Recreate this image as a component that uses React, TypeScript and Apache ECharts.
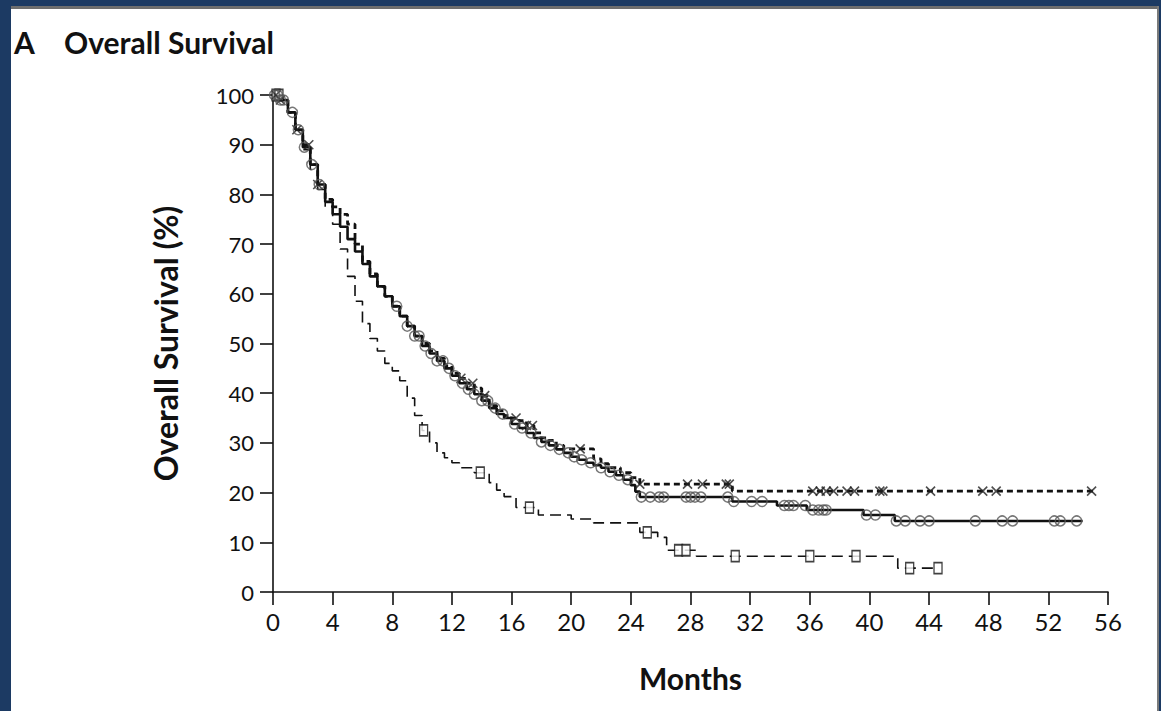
import React, { useEffect, useRef } from "react";
import * as echarts from "echarts";

// Kaplan–Meier curves: [month, survival %]
const armSolidCurve: [number, number][] = [
  [0, 100], [0.5, 99], [1, 96.5], [1.5, 93], [2, 89.5], [2.5, 86], [3, 82], [3.5, 78.5],
  [4, 76], [4.5, 73.5], [5, 71], [5.5, 68.5], [6, 66], [6.5, 63.5], [7, 61.5], [7.5, 59.5],
  [8, 57.5], [8.5, 55.5], [9, 53.5], [9.5, 51.5], [10, 49.5], [10.5, 48], [11, 46.5],
  [11.5, 45], [12, 43.5], [12.5, 42], [13, 40.8], [13.5, 39.8], [14, 38.5], [14.5, 37],
  [15, 35.8], [15.5, 35], [16, 33.8], [16.5, 33], [17, 32], [17.5, 31], [18, 30.2],
  [18.5, 29.5], [19, 28.7], [19.5, 28], [20, 27.2], [20.5, 26.6], [21, 26], [21.5, 25.5],
  [22, 25], [22.5, 24.2], [23, 23.5], [23.5, 22.6], [24, 21.5], [24.3, 20.2], [24.6, 19.1],
  [30.8, 18.2], [33.8, 17.4], [35.8, 16.5], [39.6, 15.5], [41.7, 14.3], [54.3, 14.3],
];
const armCrossCurve: [number, number][] = [
  [0, 100], [0.5, 99], [1, 96.5], [1.5, 93], [2, 90], [2.5, 86], [3, 82], [3.5, 79],
  [4, 77.5], [4.5, 76], [5, 74], [5.5, 70], [6, 66.5], [6.5, 64], [7, 61.5], [7.5, 59.5],
  [8, 57.5], [8.5, 55.5], [9, 53.5], [9.5, 51.5], [10, 50], [10.5, 48.5], [11, 47],
  [11.5, 45.5], [12, 44], [12.5, 43], [13, 42], [13.5, 41], [14, 39.5], [14.5, 37.5],
  [15, 36.5], [15.5, 35.5], [16, 35], [16.5, 34.5], [17, 33.5], [17.5, 32], [18, 31],
  [18.5, 30.5], [19, 29.5], [19.5, 28.8], [21.5, 26.8], [22, 25.8], [22.5, 25], [23.3, 24],
  [24, 23], [24.6, 21.7], [30.8, 20.3], [55, 20.3],
];
const armSquareCurve: [number, number][] = [
  [0, 100], [0.5, 99], [1, 96.5], [1.5, 93], [2, 89], [2.5, 85], [3, 81], [3.5, 77.5],
  [4, 74], [4.5, 69], [5, 63.5], [5.5, 58.5], [6, 54], [6.5, 51], [7, 48.5], [7.5, 46],
  [8, 44.5], [8.5, 42.5], [9, 39], [9.5, 35.5], [10, 32.5], [10.5, 30], [11, 28],
  [11.5, 27], [12, 26], [12.5, 25], [13.5, 24], [14.5, 22], [15, 20.5], [15.5, 19.2],
  [16.3, 17], [17.8, 15.5], [20, 14.7], [21.5, 13.9], [24.6, 12], [25.8, 11], [26.4, 8.4],
  [28.4, 7.2], [41.9, 4.8], [44.6, 4.8],
];

// Censoring times (months)
const armSolidCensor: number[] = [
  0.1, 0.3, 0.5, 0.7, 1.3, 1.7, 2.1, 2.6, 3.1, 8.3, 9.0, 9.5, 9.8, 10.2, 10.6, 11.0, 11.4,
  11.8, 12.2, 12.7, 13.1, 13.5, 14.0, 14.4, 14.9, 15.4, 16.2, 16.7, 17.3, 18.0, 18.6, 19.2,
  19.8, 20.2, 20.7, 21.3, 22.0, 22.6, 23.2, 23.8, 24.7, 25.3, 25.9, 26.2, 27.7, 28.0, 28.3,
  28.7, 30.5, 30.9, 32.1, 32.8, 34.3, 34.6, 34.9, 35.7, 36.2, 36.6, 36.9, 37.1, 39.8, 40.4,
  41.8, 42.4, 43.4, 44.0, 47.1, 48.9, 49.6, 52.4, 52.8, 53.9,
];
const armCrossCensor: number[] = [
  0.2, 0.5, 1.6, 2.4, 3.0, 12.6, 13.4, 14.2, 16.3, 17.0, 17.4, 20.6, 24.6, 27.8, 28.8,
  30.4, 30.6, 36.2, 36.7, 37.1, 37.6, 38.5, 39.0, 40.7, 40.9, 44.1, 47.6, 48.5, 54.9,
];
const armSquareCensor: number[] = [
  0.2, 0.4, 10.1, 13.9, 17.2, 25.1, 27.2, 27.7, 31.0, 36.0, 39.1, 42.7, 44.6,
];

const xTicks = { min: 0, max: 56, interval: 4 };
const yTicks = { min: 0, max: 100, interval: 10 };

const FONT = "Lato, 'Open Sans', sans-serif";
const NAVY = "#1c3a63";
const INK = "#111";

function survivalAt(curve: [number, number][], t: number): number {
  let v = curve[0][1];
  for (const [m, s] of curve) {
    if (m <= t) v = s;
    else break;
  }
  return v;
}

export default function App() {
  const ref = useRef<HTMLDivElement>(null);

  useEffect(() => {
    if (!ref.current) return;
    const chart = echarts.init(ref.current, undefined, { renderer: "svg" });

    const censorPts = (curve: [number, number][], times: number[]) =>
      times.map((t) => [t, survivalAt(curve, t)]);

    const option: any = {
      animation: false,
      backgroundColor: "#ffffff",
      grid: { left: 273, right: 53, top: 95, bottom: 119, containLabel: false },
      xAxis: {
        type: "value",
        min: xTicks.min,
        max: xTicks.max,
        interval: xTicks.interval,
        name: "Months",
        nameLocation: "middle",
        nameGap: 71,
        nameTextStyle: { fontFamily: FONT, fontWeight: "bold", fontSize: 30, color: INK },
        axisLine: { lineStyle: { color: INK, width: 1.6 } },
        axisTick: { length: 13, lineStyle: { color: INK, width: 1.6 } },
        axisLabel: { fontFamily: FONT, fontSize: 24, color: INK, margin: 17 },
        splitLine: { show: false },
      },
      yAxis: {
        type: "value",
        min: yTicks.min,
        max: yTicks.max,
        interval: yTicks.interval,
        name: "Overall Survival (%)",
        nameLocation: "middle",
        nameGap: 92,
        nameRotate: 90,
        nameTextStyle: { fontFamily: FONT, fontWeight: "bold", fontSize: 32, color: INK },
        axisLine: { show: true, lineStyle: { color: INK, width: 1.6 } },
        axisTick: { show: true, length: 13, lineStyle: { color: INK, width: 1.6 } },
        axisLabel: { fontFamily: FONT, fontSize: 22, color: INK, margin: 19 },
        splitLine: { show: false },
      },
      graphic: [
        { type: "rect", shape: { x: 0, y: 0, width: 1161, height: 6 }, style: { fill: NAVY }, z: 100 },
        { type: "rect", shape: { x: 11, y: 6, width: 1148, height: 3 }, style: { fill: "#6e6e6e" }, z: 100 },
        { type: "rect", shape: { x: 0, y: 0, width: 11, height: 711 }, style: { fill: NAVY }, z: 100 },
        { type: "rect", shape: { x: 1157, y: 6, width: 2, height: 705 }, style: { fill: "#7a7a7a" }, z: 100 },
        { type: "rect", shape: { x: 1159, y: 0, width: 2, height: 711 }, style: { fill: NAVY }, z: 100 },
        {
          type: "text", left: 14, top: 27, z: 100,
          style: { text: "A", font: `bold 30px ${FONT}`, fill: INK },
        },
        {
          type: "text", left: 64, top: 27, z: 100,
          style: { text: "Overall Survival", font: `bold 30px ${FONT}`, fill: INK },
        },
      ],
      series: [
        {
          type: "line",
          step: "end",
          data: armSquareCurve,
          showSymbol: false,
          lineStyle: { color: INK, width: 1.6, type: [11, 6] },
          z: 2,
        },
        {
          type: "line",
          step: "end",
          data: armCrossCurve,
          showSymbol: false,
          lineStyle: { color: INK, width: 2.8, type: [6, 4] },
          z: 3,
        },
        {
          type: "line",
          step: "end",
          data: armSolidCurve,
          showSymbol: false,
          lineStyle: { color: INK, width: 2.6 },
          z: 4,
        },
        {
          type: "scatter",
          data: censorPts(armSquareCurve, armSquareCensor),
          symbol: "rect",
          symbolSize: [8, 11],
          itemStyle: { color: "#fff", borderColor: INK, borderWidth: 1.5 },
          z: 5,
        },
        {
          type: "scatter",
          data: censorPts(armCrossCurve, armCrossCensor),
          symbol: "path://M0,0L10,10M10,0L0,10",
          symbolSize: 9,
          itemStyle: { color: "none", borderColor: "#222", borderWidth: 1.6 },
          z: 5,
        },
        {
          type: "scatter",
          data: censorPts(armSolidCurve, armSolidCensor),
          symbol: "circle",
          symbolSize: 10,
          itemStyle: { color: "rgba(0,0,0,0)", borderColor: "#555", borderWidth: 1.5 },
          z: 6,
        },
      ],
    };

    chart.setOption(option);
    return () => chart.dispose();
  }, []);

  return (
    <div
      ref={ref}
      style={{ position: "fixed", left: 0, top: 0, width: 1161, height: 711, background: "#fff" }}
    />
  );
}
